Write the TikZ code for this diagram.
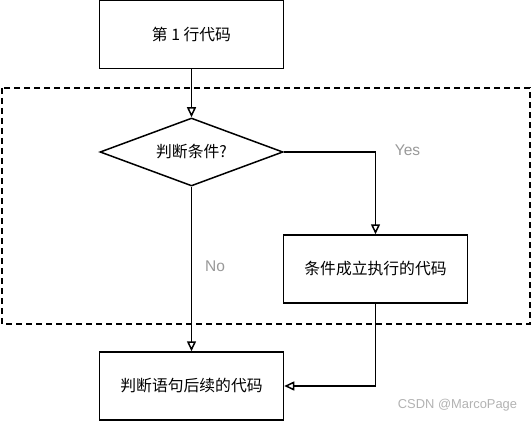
\documentclass[tikz,border=0pt]{standalone}
\usepackage{fontspec}
\setmainfont{Liberation Sans}
\newfontfamily\cjk{Noto Sans CJK SC}
\usetikzlibrary{arrows.meta,shapes.geometric}
\begin{document}
\begin{tikzpicture}[x=1pt,y=-1pt,
  box/.style={draw,line width=1.5pt,minimum width=184pt,minimum height=68pt,inner sep=0pt,font=\cjk\fontsize{15.8}{18}\selectfont},
  dia/.style={draw,line width=1.5pt,diamond,aspect=2.7,minimum width=183pt,minimum height=68pt,inner sep=0pt,font=\cjk\fontsize{15.8}{18}\selectfont},
  conn/.style={line width=1.5pt,-{Triangle[open,length=10pt,width=9pt]}},
  lbl/.style={text=gray!80,font=\fontsize{15.5}{18}\selectfont}]
\useasboundingbox (0,0) rectangle (532,422);
\node[box] (top) at (191.5,34.5) {第 1 行代码};
\node[dia] (cond) at (191.5,152) {判断条件?};
\node[box] (yesbox) at (375.5,269) {条件成立执行的代码};
\node[box] (after) at (191.5,386) {判断语句后续的代码};
\draw[line width=1.4pt,dash pattern=on 6pt off 4pt] (2,88) rectangle (530,324);
\draw[conn] (top) -- (cond);
\draw[conn] (cond.east) -| (yesbox.north);
\draw[conn] (cond.south) -- (after.north);
\draw[conn] (yesbox.south) |- (after.east);
\node[lbl] (yes) at (407.5,150) {Yes};
\node[lbl] (no) at (215,266) {No};
\node[text=gray!60,font=\fontsize{12.9}{15}\selectfont] (wm) at (457.5,405) {CSDN @MarcoPage};
\end{tikzpicture}
\end{document}
